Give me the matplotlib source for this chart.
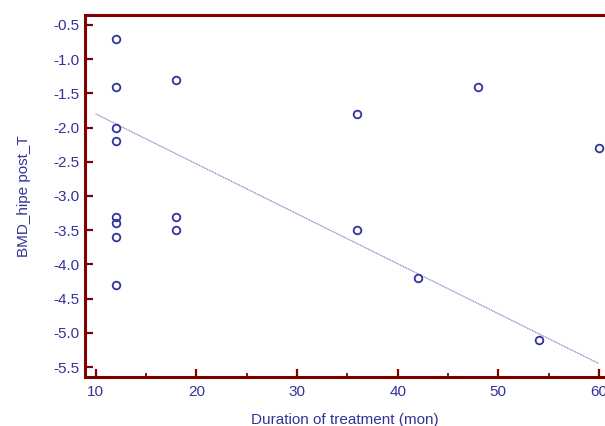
import matplotlib
matplotlib.use("Agg")
import matplotlib.pyplot as plt
from matplotlib.ticker import MultipleLocator

plt.rcParams['font.family'] = ['Liberation Sans', 'DejaVu Sans']

# Data
duration = [12, 12, 12, 12, 12, 12, 12, 12, 18, 18, 18, 36, 36, 42, 48, 54, 60]
bmd = [-0.7, -1.4, -2.0, -2.2, -3.3, -3.4, -3.6, -4.3,
       -1.3, -3.3, -3.5, -1.8, -3.5, -4.2, -1.4, -5.1, -2.3]
fit_x = [10, 60]
fit_y = [-1.80, -5.45]
xticks = [10, 20, 30, 40, 50, 60]
yticks = [-0.5, -1.0, -1.5, -2.0, -2.5, -3.0, -3.5, -4.0, -4.5, -5.0, -5.5]

spine_c = '#800000'
text_c = '#333399'
mark_c = '#33339f'

fig = plt.figure(figsize=(6.05, 4.26), dpi=100)
ax = fig.add_axes([85/605, 1 - 377/426, 1 - 85/605, (377 - 15)/426])

ax.plot(fit_x, fit_y, linestyle=(0, (1, 0.6)), color='#7777bb', linewidth=0.8, zorder=1)
ax.plot(duration, bmd, linestyle='none', marker='o', markersize=5.5,
        markerfacecolor='none', markeredgecolor=mark_c, markeredgewidth=1.3, zorder=2)

ax.set_xlim(8.94, 60.6)
ax.set_ylim(-5.646, -0.354)
ax.set_xticks(xticks)
ax.set_xticklabels([str(v) for v in xticks])
ax.set_yticks(yticks)
ax.set_yticklabels([f"{v:.1f}" for v in yticks])
ax.xaxis.set_minor_locator(MultipleLocator(5))

for s in ['left', 'bottom', 'top']:
    ax.spines[s].set_color(spine_c)
    ax.spines[s].set_linewidth(2.2)
ax.spines['right'].set_visible(False)

ax.tick_params(axis='both', which='major', direction='in', length=6, width=1.6,
               color=spine_c, labelcolor=text_c, labelsize=11, pad=6)
ax.tick_params(axis='x', which='minor', direction='in', length=3, width=1.3, color=spine_c)
ax.tick_params(axis='y', which='major', pad=4)

ax.set_xlabel('Duration of treatment (mon)', color=text_c, fontsize=11, labelpad=10)
ax.set_ylabel('BMD_hipe post_T', color=text_c, fontsize=11, labelpad=16)

fig.savefig('out.png', dpi=100)
